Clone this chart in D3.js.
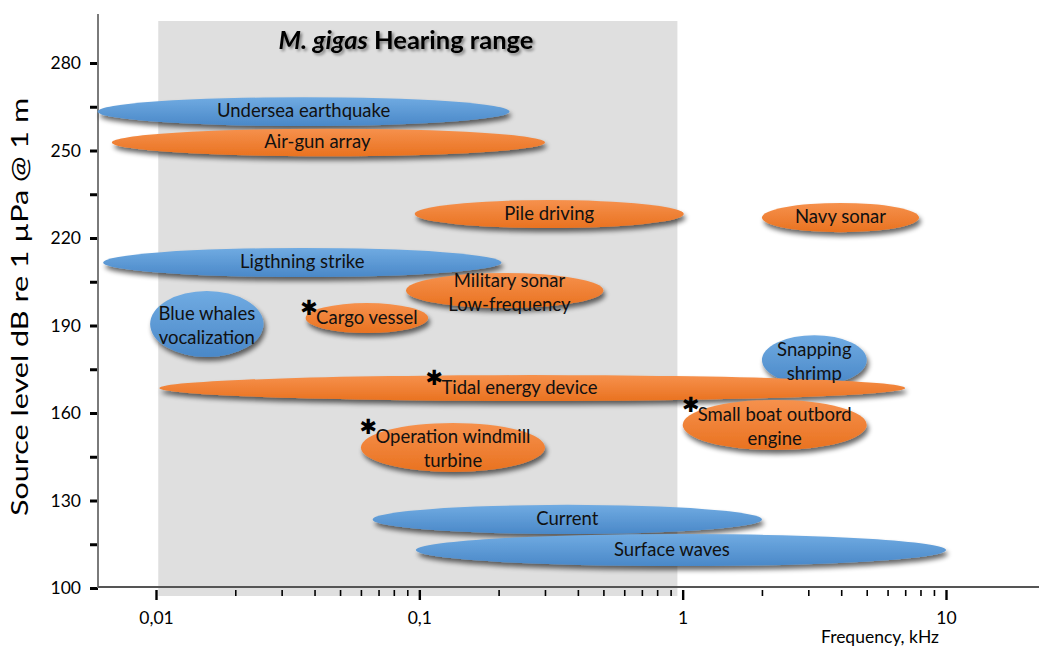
<!DOCTYPE html>
<html>
<head>
<meta charset="utf-8">
<script src="https://cdn.jsdelivr.net/npm/d3@7"></script>
<style>
  html, body { margin: 0; padding: 0; background: #fff; }
  svg { display: block; font-family: Lato, "Open Sans", sans-serif; }
</style>
</head>
<body>
<svg id="chart" width="1039" height="651"></svg>
<script>
// Noise sources: frequency span (kHz) and source level span (dB re 1 µPa @ 1 m)
const sources = [
  "Undersea earthquake", "Air-gun array", "Pile driving", "Navy sonar",
  "Ligthning strike", "Military sonar\nLow-frequency", "Cargo vessel",
  "Blue whales\nvocalization", "Snapping\nshrimp", "Tidal energy device",
  "Small boat outbord\nengine", "Operation windmill\nturbine", "Current", "Surface waves"
];
const origin   = ["natural", "human", "human", "human", "natural", "human", "human",
                  "natural", "natural", "human", "human", "human", "natural", "natural"];
const freqLow  = [0.006, 0.0068, 0.096, 2.0, 0.0063, 0.089, 0.037, 0.0095, 2.0, 0.0103, 1.0, 0.060, 0.0665, 0.097];
const freqHigh = [0.22, 0.30, 1.01, 7.9, 0.205, 0.50, 0.108, 0.0256, 5.0, 7.0, 5.0, 0.30, 2.0, 10.0];
const levelLow  = [258.4, 248.0, 223.4, 222.0, 206.6, 196.0, 187.4, 179.2, 169.6, 164.1, 147.3, 139.8, 118.5, 107.5];
const levelHigh = [268.3, 257.5, 233.0, 232.0, 216.6, 208.0, 197.7, 201.8, 186.7, 173.0, 164.5, 156.6, 128.5, 118.5];
const starred  = [false, false, false, false, false, false, true, false, false, true, true, true, false, false];
// Frequency at which a label is centred, when it is not the middle of its span
const labelFreq = [null, 0.041, null, null, null, 0.22, null, null, null, 0.24, null, null, null, 0.91];

// Hearing range of the oyster (kHz)
const hearingRange = [0.0102, 0.955];

// Axis ticks
const levelTicks = [100, 115, 130, 145, 160, 175, 190, 205, 220, 235, 250, 265, 280];
const levelLabels = [100, 130, 160, 190, 220, 250, 280];
const freqDecades = [0.01, 0.1, 1, 10];
const freqDecadeLabels = ["0,01", "0,1", "1", "10"];

const svg = d3.select("#chart");
const W = 1039, H = 651;
const axisX = 98, axisY = 587;

const x = d3.scaleLog().domain([0.01, 10]).range([156, 946]);
const y = d3.scaleLinear().domain([100, 280]).range([588, 63]);

// Definitions: gradients and shadows
const defs = svg.append("defs");
function grad(id, top, bottom) {
  const g = defs.append("linearGradient").attr("id", id)
    .attr("x1", 0).attr("y1", 0).attr("x2", 0).attr("y2", 1);
  g.append("stop").attr("offset", "0%").attr("stop-color", top);
  g.append("stop").attr("offset", "100%").attr("stop-color", bottom);
}
grad("g-natural", "#70abe2", "#4a88c8");
grad("g-human", "#f6914d", "#e97220");

function shadow(id, dx, dy, sd, op) {
  const f = defs.append("filter").attr("id", id)
    .attr("x", "-20%").attr("y", "-40%").attr("width", "140%").attr("height", "200%");
  f.append("feGaussianBlur").attr("in", "SourceAlpha").attr("stdDeviation", sd).attr("result", "b");
  f.append("feOffset").attr("in", "b").attr("dx", dx).attr("dy", dy).attr("result", "o");
  f.append("feComponentTransfer").attr("in", "o").attr("result", "s")
    .append("feFuncA").attr("type", "linear").attr("slope", op);
  const m = f.append("feMerge");
  m.append("feMergeNode").attr("in", "s");
  m.append("feMergeNode").attr("in", "SourceGraphic");
}
shadow("sh-ellipse", 2, 4, 2.5, 0.6);
shadow("sh-title", 1.5, 2, 1.5, 0.45);

// Hearing range band
svg.append("rect")
  .attr("x", x(hearingRange[0]))
  .attr("y", 21)
  .attr("width", x(hearingRange[1]) - x(hearingRange[0]))
  .attr("height", 596 - 21)
  .attr("fill", "#dfdfdf");

// Title
const title = svg.append("text")
  .attr("x", 406).attr("y", 49)
  .attr("text-anchor", "middle")
  .attr("font-size", 25.5).attr("font-weight", "bold").attr("fill", "#000")
  .attr("filter", "url(#sh-title)");
title.append("tspan").attr("font-style", "italic").text("M. gigas");
title.append("tspan").text(" Hearing range");

// Y axis
const yAxis = d3.axisLeft(y).tickValues(levelTicks).tickSize(8)
  .tickFormat(d => levelLabels.includes(d) ? d : "");
const gy = svg.append("g").attr("transform", `translate(${axisX},0)`).call(yAxis);
gy.select(".domain").remove();
gy.selectAll(".tick line").attr("stroke", "#000").attr("stroke-width", 3);
gy.selectAll(".tick text").attr("font-size", 17.5).attr("fill", "#000")
  .attr("x", -17).attr("font-family", "Lato, sans-serif");
svg.append("line")
  .attr("x1", axisX).attr("x2", axisX).attr("y1", 14).attr("y2", axisY + 1)
  .attr("stroke", "#7a7a7a").attr("stroke-width", 2);

// X axis (log)
const minorFreq = [];
[0.01, 0.1, 1].forEach(dec => { for (let k = 2; k <= 9; k++) minorFreq.push(dec * k); });
const gx = svg.append("g").attr("transform", `translate(0,${axisY})`);
gx.call(d3.axisBottom(x).tickValues(minorFreq).tickSize(9).tickFormat(""));
gx.selectAll(".tick line").attr("stroke", "#000").attr("stroke-width", 1.6).attr("y1", 3);
gx.select(".domain").remove();
const gx2 = svg.append("g").attr("transform", `translate(0,${axisY})`);
gx2.call(d3.axisBottom(x).tickValues(freqDecades).tickSize(13)
  .tickFormat((d, i) => freqDecadeLabels[i]));
gx2.select(".domain").remove();
gx2.selectAll(".tick line").attr("stroke", "#000").attr("stroke-width", 2.4).attr("y1", 3);
gx2.selectAll(".tick text").attr("font-size", 17.5).attr("fill", "#000")
  .attr("y", 25).attr("font-family", "Lato, sans-serif");
svg.append("line")
  .attr("x1", axisX).attr("x2", W).attr("y1", axisY).attr("y2", axisY)
  .attr("stroke", "#555").attr("stroke-width", 2);

// Axis titles
svg.append("text")
  .attr("transform", `translate(28,${(97 + 517) / 2}) rotate(-90)`)
  .attr("text-anchor", "middle").attr("font-size", 24).attr("fill", "#000")
  .attr("textLength", 418).attr("lengthAdjust", "spacingAndGlyphs")
  .text("Source level dB re 1 µPa @ 1 m");
svg.append("text")
  .attr("x", 880).attr("y", 643).attr("text-anchor", "middle")
  .attr("font-size", 17).attr("fill", "#000")
  .attr("textLength", 118).attr("lengthAdjust", "spacingAndGlyphs")
  .text("Frequency, kHz");

// Source ellipses
const data = sources.map((name, i) => ({
  name, origin: origin[i], f0: freqLow[i], f1: freqHigh[i],
  l0: levelLow[i], l1: levelHigh[i], star: starred[i], lf: labelFreq[i]
}));
data.forEach(d => {
  d.x0 = x(d.f0); d.x1 = x(d.f1);
  d.yTop = y(d.l1); d.yBot = y(d.l0);
  d.cx = (d.x0 + d.x1) / 2; d.cy = (d.yTop + d.yBot) / 2;
  d.lx = d.lf ? x(d.lf) : d.cx;
});

svg.append("g").selectAll("ellipse").data(data).join("ellipse")
  .attr("cx", d => d.cx).attr("cy", d => d.cy)
  .attr("rx", d => (d.x1 - d.x0) / 2).attr("ry", d => (d.yBot - d.yTop) / 2)
  .attr("fill", d => `url(#g-${d.origin})`)
  .attr("filter", "url(#sh-ellipse)");

// Labels
const lineGap = 24;
const labels = svg.append("g");
data.forEach(d => {
  const lines = d.name.split("\n");
  const first = d.cy + (lines.length > 1 ? 1 : -1.5) - (lines.length - 1) * lineGap / 2;
  const t = labels.append("text")
    .attr("text-anchor", "middle").attr("font-size", 18.5).attr("fill", "#111");
  lines.forEach((ln, j) => {
    t.append("tspan").attr("x", d.lx).attr("y", first + j * lineGap)
      .attr("dominant-baseline", "central").text(ln);
  });
  if (d.star) {
    const firstSpan = t.select("tspan").node();
    const w = firstSpan.getComputedTextLength();
    labels.append("text")
      .attr("x", d.lx - w / 2 - 7).attr("y", first - 9)
      .attr("text-anchor", "middle").attr("dominant-baseline", "central")
      .attr("font-family", "DejaVu Sans, sans-serif")
      .attr("font-size", 21).attr("fill", "#000")
      .text("\u2731");
  }
});
</script>
</body>
</html>
